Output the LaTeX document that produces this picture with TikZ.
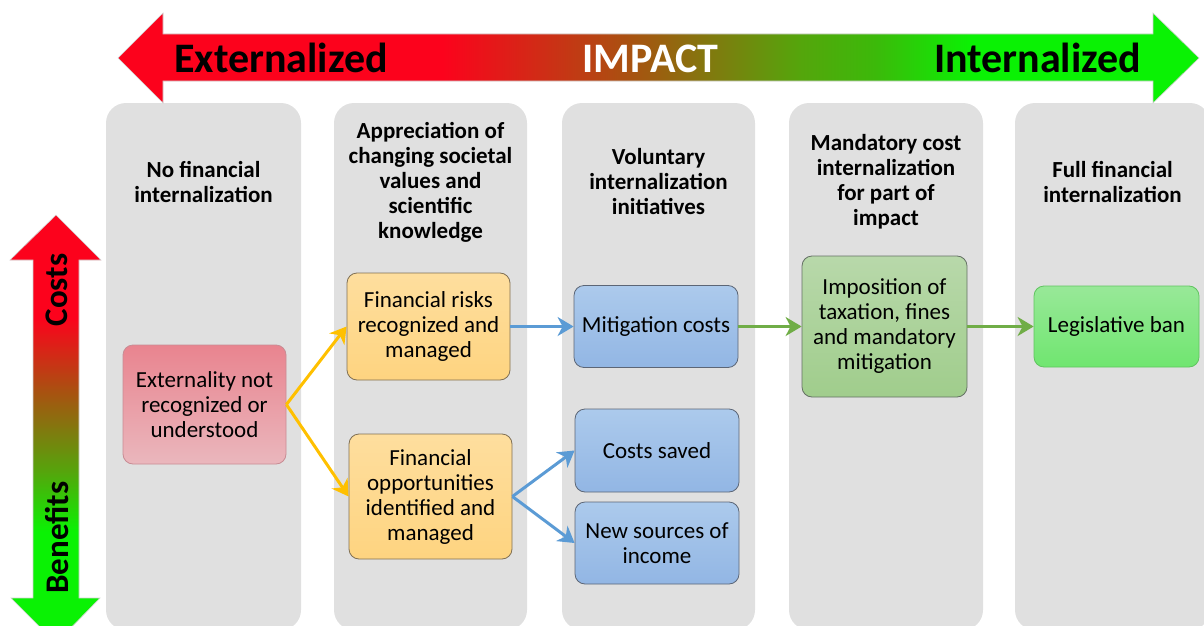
\documentclass[tikz,border=0pt]{standalone}
\usepackage{fontspec}
\setmainfont{Carlito}
\usetikzlibrary{arrows.meta}
\usetikzlibrary{positioning}

\definecolor{colgray}{RGB}{224,224,224}
\definecolor{impred}{RGB}{252,2,28}
\definecolor{impbrown}{RGB}{165,85,16}
\definecolor{impolive}{RGB}{85,165,12}
\definecolor{implime}{RGB}{60,185,10}
\definecolor{impgreen}{RGB}{10,242,4}
\definecolor{redtop}{RGB}{233,132,143}
\definecolor{redbot}{RGB}{234,183,189}
\definecolor{redline}{RGB}{200,140,148}
\definecolor{orangetop}{RGB}{254,222,158}
\definecolor{orangebot}{RGB}{254,212,128}
\definecolor{orangeline}{RGB}{128,112,84}
\definecolor{bluetop}{RGB}{172,202,236}
\definecolor{bluebot}{RGB}{146,182,228}
\definecolor{blueline}{RGB}{92,102,118}
\definecolor{taxtop}{RGB}{184,216,170}
\definecolor{taxbot}{RGB}{160,205,140}
\definecolor{taxline}{RGB}{100,112,100}
\definecolor{bantop}{RGB}{152,232,152}
\definecolor{banbot}{RGB}{112,230,112}
\definecolor{banline}{RGB}{96,196,96}
\definecolor{arrowyellow}{RGB}{255,192,0}
\definecolor{arrowblue}{RGB}{91,155,213}
\definecolor{arrowgreen}{RGB}{112,173,71}

\pgfdeclarehorizontalshading{impactshade}{100bp}{color(0bp)=(impred); color(40bp)=(impred); color(49bp)=(impbrown); color(56.5bp)=(impolive); color(60bp)=(implime); color(64.5bp)=(impgreen); color(100bp)=(impgreen)}
\pgfdeclareverticalshading{costshade}{100bp}{color(0bp)=(impgreen); color(38bp)=(impgreen); color(45bp)=(impolive); color(54bp)=(impbrown); color(63bp)=(impred); color(100bp)=(impred)}

\begin{document}
\begin{tikzpicture}[x=1pt, y=-1pt,
	head/.style={align=center, font=\bfseries\fontsize{23}{25}\selectfont},
	box/.style={draw, rounded corners=10pt, align=center, line width=0.8pt, inner sep=2pt, font=\fontsize{23}{25}\selectfont},
	redbox/.style={box, draw=redline, top color=redtop, bottom color=redbot},
	orangebox/.style={box, draw=orangeline, top color=orangetop, bottom color=orangebot},
	bluebox/.style={box, draw=blueline, top color=bluetop, bottom color=bluebot},
	taxbox/.style={box, draw=taxline, top color=taxtop, bottom color=taxbot},
	banbox/.style={box, draw=banline, top color=bantop, bottom color=banbot},
	yarrow/.style={draw=arrowyellow, line width=3pt, -{Stealth[length=16pt,width=19pt,inset=5pt]}},
	barrow/.style={yarrow, draw=arrowblue},
	garrow/.style={yarrow, draw=arrowgreen}]
	\useasboundingbox (0,0) rectangle (1204,626);
	
	% Draw columns
	\fill[colgray, rounded corners=20pt] (106,103) rectangle (301,630);
	\fill[colgray, rounded corners=20pt] (334,103) rectangle (527,630);
	\fill[colgray, rounded corners=20pt] (562,103) rectangle (755,630);
	\fill[colgray, rounded corners=20pt] (789,103) rectangle (983,630);
	\fill[colgray, rounded corners=20pt] (1015,103) rectangle (1210,630);
	
	% Draw arrows for scales
	\shade[shading=impactshade, draw=black!18, line width=0.6pt] (118,58) -- (163,13) -- (163,34) -- (1153,34) -- (1153,13) -- (1199,58)
		-- (1153,103) -- (1153,81) -- (163,81) -- (163,103) -- cycle;
	\shade[shading=costshade, draw=black!18, line width=0.6pt] (56,215) -- (101,260) -- (79,260) -- (79,598) -- (100,598) -- (56,643)
		-- (11,598) -- (33,598) -- (33,260) -- (10,260) -- cycle;
	
	% Scale labels
	\node[anchor=base, font=\bfseries\fontsize{42}{42}\selectfont] (ext-lab) at (281,73) {Externalized};
	\node[anchor=base, text=white, font=\bfseries\fontsize{42}{42}\selectfont] (imp-lab) at (650.5,73) {IMPACT};
	\node[anchor=base, font=\bfseries\fontsize{42}{42}\selectfont] (int-lab) at (1037.5,73) {Internalized};
	\node[rotate=90, font=\bfseries\fontsize{33}{33}\selectfont] (cost-lab) at (57,290) {Costs};
	\node[rotate=90, font=\bfseries\fontsize{33}{33}\selectfont] (ben-lab) at (57,537.5) {Benefits};
	
	% Column headers
	\node[head] (h1) at (203.5,182) {No financial\\ internalization};
	\node[head] (h2) at (430.5,182) {Appreciation of\\ changing societal\\ values and\\ scientific\\ knowledge};
	\node[head] (h3) at (658.5,182) {Voluntary\\ internalization\\ initiatives};
	\node[head] (h4) at (886,182) {Mandatory cost\\ internalization\\ for part of\\ impact};
	\node[head] (h5) at (1112.5,182) {Full financial\\ internalization};
	
	% Boxes
	\node[redbox, minimum width=163pt, minimum height=119pt] (ext) at (204.5,404.5) {Externality not\\ recognized or\\ understood};
	\node[orangebox, minimum width=163pt, minimum height=107pt] (risk) at (428.5,326.5) {Financial risks\\ recognized and\\ managed};
	\node[orangebox, minimum width=163pt, minimum height=125pt] (opp) at (430.5,496.5) {Financial\\ opportunities\\ identified and\\ managed};
	\node[bluebox, minimum width=164pt, minimum height=82pt] (mit) at (656,326.5) {Mitigation costs};
	\node[bluebox, minimum width=164pt, minimum height=83pt] (saved) at (657,450.5) {Costs saved};
	\node[bluebox, minimum width=164pt, minimum height=82pt] (income) at (657,543) {New sources of\\ income};
	\node[taxbox, minimum width=165pt, minimum height=141pt] (tax) at (884.5,326.5) {Imposition of\\ taxation, fines\\ and mandatory\\ mitigation};
	\node[banbox, minimum width=165pt, minimum height=81pt] (ban) at (1116.5,326.5) {Legislative ban};
	
	% Connectors
	\draw[yarrow] (ext.east) -- (risk.west);
	\draw[yarrow] (ext.east) -- (opp.west);
	\draw[barrow] (risk) -- (mit);
	\draw[barrow] (opp.east) -- (saved.west);
	\draw[barrow] (opp.east) -- (income.west);
	\draw[garrow] (mit) -- (tax);
	\draw[garrow] (tax) -- (ban);
\end{tikzpicture}
\end{document}
